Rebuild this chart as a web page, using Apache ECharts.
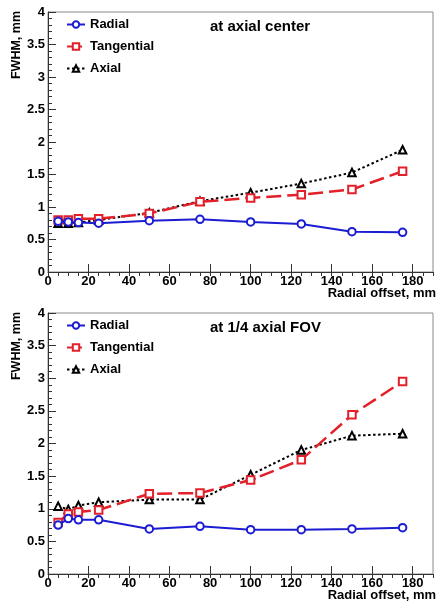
<!DOCTYPE html>
<html>
<head>
<meta charset="utf-8">
<script src="https://cdn.jsdelivr.net/npm/echarts@6/dist/echarts.min.js"></script>
<style>
html,body{margin:0;padding:0;background:#fff;}
#c{width:442px;height:612px;}
</style>
</head>
<body>
<div id="c"></div>
<script>
// ---- data ----
var xOffsets = [5, 10, 15, 25, 50, 75, 100, 125, 150, 175];
var seriesNames = ['Radial', 'Tangential', 'Axial'];
var panelTitles = ['at axial center', 'at 1/4 axial FOV'];
var xAxisTitle = 'Radial offset, mm';
var yAxisTitle = 'FWHM, mm';

var centerRadial     = [0.78, 0.77, 0.76, 0.75, 0.79, 0.81, 0.77, 0.74, 0.62, 0.61];
var centerTangential = [0.80, 0.80, 0.82, 0.82, 0.90, 1.08, 1.14, 1.19, 1.27, 1.55];
var centerAxial      = [0.75, 0.75, 0.76, 0.80, 0.91, 1.09, 1.22, 1.36, 1.53, 1.88];

var quarterRadial     = [0.75, 0.85, 0.83, 0.83, 0.69, 0.73, 0.68, 0.68, 0.69, 0.71];
var quarterTangential = [0.79, 0.92, 0.95, 0.98, 1.23, 1.24, 1.44, 1.75, 2.44, 2.95];
var quarterAxial      = [1.04, 0.99, 1.05, 1.10, 1.14, 1.14, 1.52, 1.90, 2.12, 2.15];

var panels = [
  [centerRadial, centerTangential, centerAxial],
  [quarterRadial, quarterTangential, quarterAxial]
];

// ---- styles ----
var FONT = '"Liberation Sans", Arial, sans-serif';
var colors = ['#1c1cd2', '#e3202a', '#000000'];
var symbols = ['emptyCircle', 'emptyRect', 'emptyTriangle'];
var symbolSizes = [7.5, 7.5, 7.5];
var lineStyles = [
  {width: 2, type: 'solid'},
  {width: 2.5, type: [15, 6]},
  {width: 2, type: [2.5, 2.5]}
];
var grids = [
  {left: 48, top: 12, width: 385, height: 260},
  {left: 48, top: 313, width: 385, height: 261}
];

function pairs(arr) { return xOffsets.map(function (x, i) { return [x, arr[i]]; }); }

var option = {
  animation: false,
  backgroundColor: '#fff',
  textStyle: {fontFamily: FONT},
  grid: grids.map(function (g) {
    return Object.assign({show: true, borderColor: '#8a8a8a', borderWidth: 1, backgroundColor: 'transparent'}, g);
  }),
  xAxis: [],
  yAxis: [],
  legend: [],
  series: [],
  graphic: []
};

grids.forEach(function (g, gi) {
  option.xAxis.push({
    type: 'value', gridIndex: gi, min: 0, max: 190, interval: 20,
    axisLine: {show: true, onZero: false, lineStyle: {color: '#333', width: 1}},
    axisTick: {show: true, inside: true, length: 8, lineStyle: {color: '#333'}},
    axisLabel: {show: true, showMaxLabel: false, margin: 3, color: '#000',
      fontFamily: FONT, fontWeight: 'bold', fontSize: 13},
    splitLine: {show: false}
  });
  option.xAxis.push({
    type: 'value', gridIndex: gi, min: 0, max: 190, interval: 5,
    axisLine: {show: false},
    axisTick: {show: true, inside: true, length: 4, lineStyle: {color: '#333'}},
    axisLabel: {show: false},
    splitLine: {show: false}
  });
  option.yAxis.push({
    type: 'value', gridIndex: gi, min: 0, max: 4, interval: 0.5,
    axisLine: {show: true, onZero: false, lineStyle: {color: '#333', width: 1}},
    axisTick: {show: true, inside: true, length: 8, lineStyle: {color: '#333'}},
    minorTick: {show: true, splitNumber: 5, length: 4, lineStyle: {color: '#333'}},
    axisLabel: {show: true, margin: 3, color: '#000',
      fontFamily: FONT, fontWeight: 'bold', fontSize: 13},
    splitLine: {show: false}
  });

  option.legend.push({
    orient: 'vertical', left: 66, top: g.top + 6, padding: 0,
    itemWidth: 18, itemHeight: 8, itemGap: 9,
    data: seriesNames,
    textStyle: {fontFamily: FONT, fontWeight: 'bold', fontSize: 13, color: '#000'}
  });

  panels[gi].forEach(function (vals, si) {
    option.series.push({
      name: seriesNames[si], type: 'line',
      xAxisIndex: gi * 2, yAxisIndex: gi,
      data: pairs(vals),
      symbol: symbols[si], symbolSize: symbolSizes[si],
      showSymbol: true,
      itemStyle: {color: colors[si], borderColor: colors[si], borderWidth: 1},
      lineStyle: Object.assign({color: colors[si]}, lineStyles[si]),
      z: 3 - si
    });
  });

  option.graphic.push({
    type: 'text', left: 210, top: g.top + 7,
    style: {text: panelTitles[gi], font: 'bold 15px ' + FONT, fill: '#000'}
  });
  option.graphic.push({
    type: 'text', x: 436, y: g.top + g.height + 21,
    style: {text: xAxisTitle, font: 'bold 13px ' + FONT, fill: '#000', align: 'right', verticalAlign: 'middle'}
  });
  option.graphic.push({
    type: 'text', x: 17, y: g.top - 1, rotation: Math.PI / 2,
    style: {text: yAxisTitle, font: 'bold 12.5px ' + FONT, fill: '#000', align: 'right', verticalAlign: 'middle'}
  });
});

var chart = echarts.init(document.getElementById('c'), null, {renderer: 'canvas'});
chart.setOption(option);
</script>
</body>
</html>
